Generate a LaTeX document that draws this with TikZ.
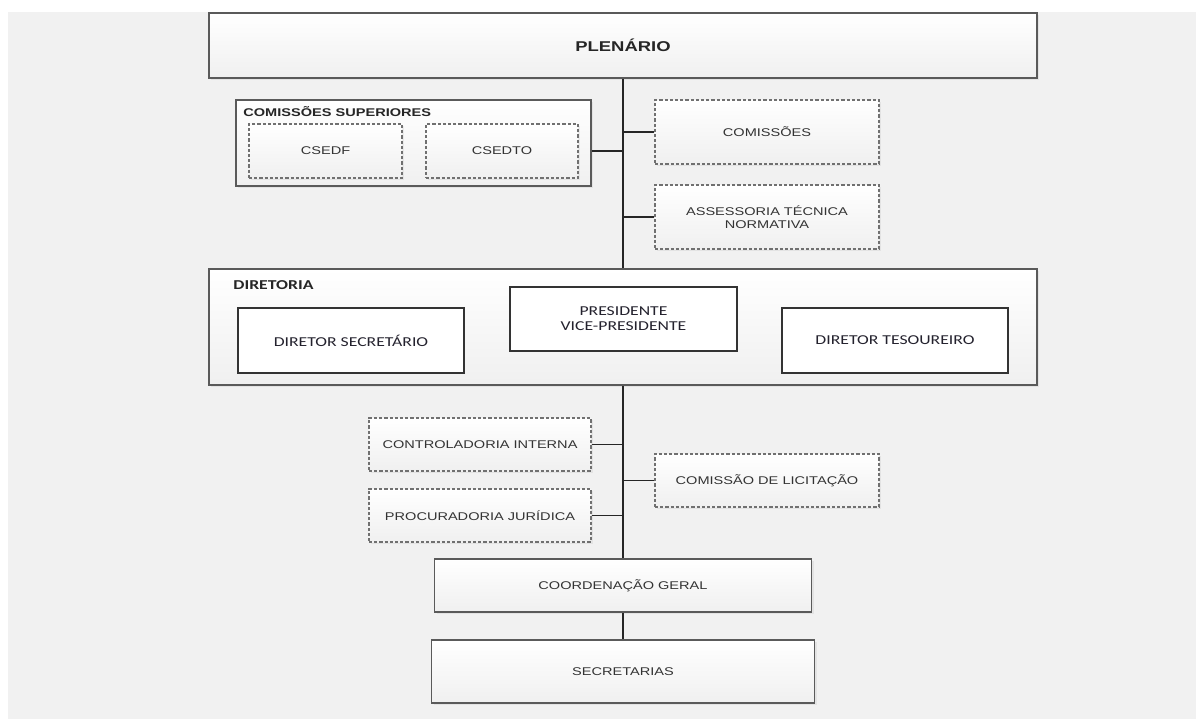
\documentclass[tikz,border=0pt]{standalone}
\usepackage{fontspec}
\setmainfont{Liberation Sans}[FakeStretch=1.3]
\newfontfamily\calibri{Carlito}[FakeStretch=1.3]
\usetikzlibrary{positioning, calc, shadows}

\definecolor{bggray}{HTML}{F1F1F1}
\definecolor{boxline}{HTML}{5A5A5A}
\definecolor{dashline}{HTML}{707070}
\definecolor{txtgray}{HTML}{333333}
\definecolor{txtdark}{HTML}{24222E}

\begin{document}
\begin{tikzpicture}[x=0.5pt, y=-0.5pt,
    solidbox/.style={draw=boxline, line width=0.8pt, top color=white, bottom color=black!6,
        text=txtgray, align=center, inner sep=0pt, font=\fontsize{5.6}{6.4}\selectfont,
        drop shadow={shadow xshift=1pt, shadow yshift=-1pt, opacity=0.12}},
    dashbox/.style={solidbox, draw=dashline, line width=0.6pt, dash pattern=on 1.6pt off 1pt},
    whitebox/.style={draw=black!80, line width=0.7pt, fill=white, text=txtdark, align=center,
        inner sep=0pt, font=\calibri\fontsize{6.8}{7.6}\selectfont},
    boxtitle/.style={anchor=base west, inner sep=0pt, text=black!85},
    link/.style={draw=black!85, line width=0.75pt}]

    \useasboundingbox (0, 0) rectangle (1196, 719);
    \fill [white] (0, 0) rectangle (1196, 719);
    \fill [bggray] (8, 12) rectangle (1196, 719);

    %Plenario

    \node at (623, 45.5) [solidbox, minimum width=414pt, minimum height=32.5pt, line width=1pt,
        font=\bfseries\fontsize{7.1}{8}\selectfont, text=black!85] (plen) {PLENÁRIO};

    %Comissoes superiores

    \node at (413.5, 143) [solidbox, minimum width=177.5pt, minimum height=43pt] (csup) {};
    \node at (243, 116) [boxtitle, font=\bfseries\fontsize{5.6}{6.4}\selectfont] (csuptitle) {COMISSÕES SUPERIORES};
    \node at (325.5, 151) [dashbox, minimum width=76.5pt, minimum height=27pt] (csedf) {CSEDF};
    \node at (502, 151) [dashbox, minimum width=76pt, minimum height=27pt] (csedto) {CSEDTO};

    \node at (767, 132) [dashbox, minimum width=112pt, minimum height=32pt] (com) {COMISSÕES};
    \node at (767, 217) [dashbox, minimum width=112pt, minimum height=32pt] (asse) {ASSESSORIA TÉCNICA\\NORMATIVA};

    %Diretoria

    \node at (623, 327) [solidbox, minimum width=414pt, minimum height=58pt] (dir) {};
    \node at (233, 289) [boxtitle, font=\calibri\bfseries\fontsize{6.8}{7.6}\selectfont] (dirtitle) {DIRETORIA};
    \node at (351, 340.5) [whitebox, minimum width=113pt, minimum height=32.5pt] (dsec) {DIRETOR SECRETÁRIO};
    \node at (623.5, 319) [whitebox, minimum width=113.5pt, minimum height=32pt] (pres) {PRESIDENTE\\VICE-PRESIDENTE};
    \node at (895, 340.5) [whitebox, minimum width=113pt, minimum height=32.5pt] (dtes) {DIRETOR TESOUREIRO};

    %Orgaos de apoio

    \node at (480, 444.5) [dashbox, minimum width=111pt, minimum height=26.5pt] (ctrl) {CONTROLADORIA INTERNA};
    \node at (480, 515.5) [dashbox, minimum width=111pt, minimum height=26.5pt] (proc) {PROCURADORIA JURÍDICA};
    \node at (767, 480.5) [dashbox, minimum width=112pt, minimum height=26.5pt] (lic) {COMISSÃO DE LICITAÇÃO};

    \node at (623, 585.5) [solidbox, minimum width=188.5pt, minimum height=26.5pt] (coord) {COORDENAÇÃO GERAL};
    \node at (623, 671.5) [solidbox, minimum width=191.5pt, minimum height=31.5pt] (secr) {SECRETARIAS};

    %Ligacoes

    \draw [link] (plen.south) -- (dir.north);
    \draw [link] (dir.south) -- (coord.north);
    \draw [link] (coord.south) -- (secr.north);

    \draw [link] (com.west) -- (com.west -| plen.south);
    \draw [link] (asse.west) -- (asse.west -| plen.south);
    \draw [link] (csup.east |- csedto.east) -- (csedto.east -| plen.south);

    \draw [link] (ctrl.east) -- (ctrl.east -| dir.south);
    \draw [link] (proc.east) -- (proc.east -| dir.south);
    \draw [link] (lic.west) -- (lic.west -| dir.south);
\end{tikzpicture}
\end{document}
